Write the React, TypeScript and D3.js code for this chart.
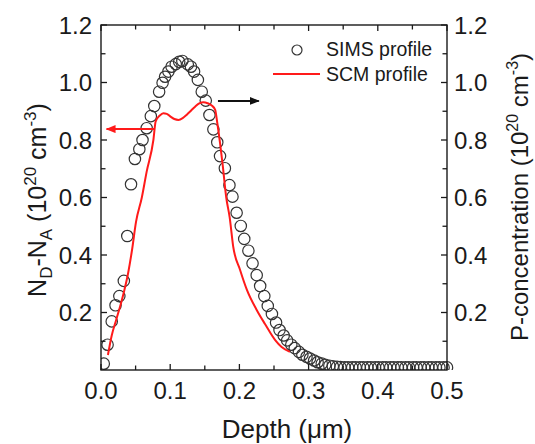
import * as d3 from 'd3';

// SIMS profile (right axis), depth in µm, P concentration in 1e20 cm^-3
const simsDepth = [
  0.004, 0.0095, 0.0155, 0.021, 0.0265, 0.033, 0.038, 0.0434, 0.049, 0.0554,
  0.06, 0.066, 0.072, 0.077, 0.084, 0.089, 0.0926, 0.0974, 0.102, 0.108,
  0.113, 0.1176, 0.1254, 0.13, 0.1345, 0.14, 0.1456, 0.1514, 0.1567, 0.1624,
  0.168, 0.172, 0.179, 0.1856, 0.19, 0.196, 0.202, 0.207, 0.213, 0.219,
  0.225, 0.23, 0.236, 0.241, 0.247, 0.253, 0.258, 0.264, 0.269, 0.275,
  0.28, 0.286, 0.291, 0.297, 0.302, 0.308, 0.313, 0.319, 0.324, 0.33,
  0.335, 0.341, 0.346, 0.352, 0.357, 0.363, 0.368, 0.374, 0.379, 0.385,
  0.39, 0.396, 0.401, 0.407, 0.412, 0.418, 0.423, 0.429, 0.434, 0.44,
  0.445, 0.451, 0.456, 0.462, 0.467, 0.473, 0.478, 0.484, 0.489, 0.495, 0.5,
];
const simsConc = [
  0.022, 0.088, 0.169, 0.225, 0.257, 0.31, 0.466, 0.646, 0.734, 0.768,
  0.8, 0.841, 0.883, 0.918, 0.968, 0.999, 1.02, 1.038, 1.055, 1.064,
  1.072, 1.075, 1.063, 1.055, 1.038, 1.009, 0.968, 0.937, 0.887, 0.837,
  0.792, 0.744, 0.702, 0.643, 0.603, 0.547, 0.501, 0.456, 0.415, 0.371,
  0.33, 0.292, 0.257, 0.223, 0.195, 0.165, 0.139, 0.12, 0.103, 0.088,
  0.076, 0.063, 0.053, 0.046, 0.04, 0.033, 0.027, 0.022, 0.018, 0.015,
  0.013, 0.011, 0.01, 0.009, 0.009, 0.009, 0.009, 0.009, 0.009, 0.009,
  0.009, 0.009, 0.009, 0.009, 0.009, 0.009, 0.009, 0.009, 0.009, 0.009,
  0.009, 0.009, 0.009, 0.009, 0.009, 0.009, 0.009, 0.009, 0.009, 0.009, 0.009,
];

// SCM profile (left axis), ND-NA in 1e20 cm^-3
const scmDepth = [
  0.01, 0.0155, 0.022, 0.0275, 0.034, 0.0395, 0.045, 0.0506, 0.059, 0.066,
  0.0757, 0.079, 0.085, 0.09, 0.095, 0.1, 0.106, 0.112, 0.118, 0.124,
  0.13, 0.136, 0.142, 0.148, 0.154, 0.16, 0.165, 0.168, 0.172, 0.176,
  0.181, 0.186, 0.191, 0.201, 0.211, 0.225, 0.237, 0.252, 0.261, 0.273,
];
const scmConc = [
  0.052, 0.12, 0.175, 0.22, 0.28, 0.341, 0.42, 0.515, 0.6, 0.69,
  0.8, 0.865, 0.885, 0.893, 0.891, 0.882, 0.873, 0.87, 0.876, 0.888,
  0.902, 0.916, 0.927, 0.931, 0.928, 0.92, 0.905, 0.86, 0.79, 0.71,
  0.6, 0.53, 0.43, 0.348, 0.278, 0.209, 0.16, 0.103, 0.08, 0.063,
];

const xTickLabels = ['0.0', '0.1', '0.2', '0.3', '0.4', '0.5'];
const xMinorTicks = [0.05, 0.15, 0.25, 0.35, 0.45];
const yTickLabels = ['0.2', '0.4', '0.6', '0.8', '1.0', '1.2'];
const yMinorTicks = [0.1, 0.3, 0.5, 0.7, 0.9, 1.1];

// annotation arrows: [fromDepth, toDepth, level]
const leftArrow = [0.078, 0.008, 0.838];
const rightArrow = [0.169, 0.228, 0.936];

const width = 535;
const height = 444;
const plot = { left: 101, right: 447, top: 25, bottom: 370 };
const font = '"Liberation Sans", Arial, sans-serif';
const ink = '#1a1a1a';

export default function App() {
  const x = d3.scaleLinear().domain([0, 0.5]).range([plot.left, plot.right]);
  const y = d3.scaleLinear().domain([0, 1.2]).range([plot.bottom, plot.top]);

  const scmLine = d3
    .line<number>()
    .x((_, i) => x(scmDepth[i]))
    .y((d) => y(d))
    .curve(d3.curveMonotoneX)(scmConc);

  const major = 6;
  const minor = 4.5;

  return (
    <svg
      width={width}
      height={height}
      viewBox={`0 0 ${width} ${height}`}
      style={{ position: 'absolute', left: 0, top: 0, background: '#fff' }}
      fontFamily={font}
    >
      <defs>
        <marker id="headRed" viewBox="0 0 10 8" refX="9" refY="4" markerWidth="10" markerHeight="8" markerUnits="userSpaceOnUse" orient="auto">
          <path d="M0,0 L10,4 L0,8 Z" fill="#ff1a1a" />
        </marker>
        <marker id="headBlack" viewBox="0 0 10 8" refX="9" refY="4" markerWidth="10" markerHeight="8" markerUnits="userSpaceOnUse" orient="auto">
          <path d="M0,0 L10,4 L0,8 Z" fill="#111" />
        </marker>
        <clipPath id="plotClip">
          <rect x={plot.left} y={plot.top - 8} width={plot.right - plot.left + 8} height={plot.bottom - plot.top + 8} />
        </clipPath>
      </defs>

      {/* SIMS circles */}
      <g clipPath="url(#plotClip)">
        {simsConc.map((v, i) => (
          <circle key={i} cx={x(simsDepth[i])} cy={y(v)} r={5.7} fill="none" stroke="#333" strokeWidth={1.2} />
        ))}
      </g>

      {/* SCM line */}
      <path d={scmLine ?? ''} fill="none" stroke="#ff1a1a" strokeWidth={2} />

      {/* arrows */}
      <line
        x1={x(leftArrow[0])} x2={x(leftArrow[1])} y1={y(leftArrow[2])} y2={y(leftArrow[2])}
        stroke="#ff1a1a" strokeWidth={2} markerEnd="url(#headRed)"
      />
      <line
        x1={x(rightArrow[0])} x2={x(rightArrow[1])} y1={y(rightArrow[2])} y2={y(rightArrow[2])}
        stroke="#111" strokeWidth={2} markerEnd="url(#headBlack)"
      />

      {/* frame */}
      <rect
        x={plot.left} y={plot.top} width={plot.right - plot.left} height={plot.bottom - plot.top}
        fill="none" stroke={ink} strokeWidth={1.4}
      />

      {/* x ticks, bottom and top */}
      {xTickLabels.map((t) => {
        const px = x(+t);
        return (
          <g key={t}>
            <line x1={px} x2={px} y1={plot.bottom} y2={plot.bottom - major} stroke={ink} strokeWidth={1.3} />
            <line x1={px} x2={px} y1={plot.top} y2={plot.top + major} stroke={ink} strokeWidth={1.3} />
            <text x={px} y={399} textAnchor="middle" fontSize={24} fill={ink}>{t}</text>
          </g>
        );
      })}
      {xMinorTicks.map((t) => (
        <g key={t}>
          <line x1={x(t)} x2={x(t)} y1={plot.bottom} y2={plot.bottom - minor} stroke={ink} strokeWidth={1.3} />
          <line x1={x(t)} x2={x(t)} y1={plot.top} y2={plot.top + minor} stroke={ink} strokeWidth={1.3} />
        </g>
      ))}

      {/* y ticks, left and right */}
      {yTickLabels.map((t) => {
        const py = y(+t);
        return (
          <g key={t}>
            <line x1={plot.left} x2={plot.left + major} y1={py} y2={py} stroke={ink} strokeWidth={1.3} />
            <line x1={plot.right} x2={plot.right - major} y1={py} y2={py} stroke={ink} strokeWidth={1.3} />
            <text x={92} y={py + 8.5} textAnchor="end" fontSize={24} fill={ink}>{t}</text>
            <text x={454} y={py + 8.5} textAnchor="start" fontSize={24} fill={ink}>{t}</text>
          </g>
        );
      })}
      {yMinorTicks.map((t) => (
        <g key={t}>
          <line x1={plot.left} x2={plot.left + minor} y1={y(t)} y2={y(t)} stroke={ink} strokeWidth={1.3} />
          <line x1={plot.right} x2={plot.right - minor} y1={y(t)} y2={y(t)} stroke={ink} strokeWidth={1.3} />
        </g>
      ))}

      {/* legend */}
      <circle cx={297} cy={50} r={5} fill="none" stroke="#333" strokeWidth={1.2} />
      <text x={326} y={56} fontSize={19.5} fill={ink}>SIMS profile</text>
      <line x1={273} x2={320} y1={74} y2={74} stroke="#ff1a1a" strokeWidth={1.8} />
      <text x={326} y={80.5} fontSize={19.5} fill={ink}>SCM profile</text>

      {/* axis titles */}
      <text x={287} y={438} textAnchor="middle" fontSize={26} fill={ink}>Depth (μm)</text>

      <text transform="translate(46,200) rotate(-90)" textAnchor="middle" fontSize={25} fill={ink}>
        N<tspan fontSize={17} dy={6}>D</tspan>
        <tspan dy={-6}>-N</tspan>
        <tspan fontSize={17} dy={6}>A</tspan>
        <tspan dy={-6}> (10</tspan>
        <tspan fontSize={17} dy={-10}>20</tspan>
        <tspan dy={10}> cm</tspan>
        <tspan fontSize={17} dy={-10}>-3</tspan>
        <tspan dy={10}>)</tspan>
      </text>

      <text transform="translate(528,197) rotate(-90)" textAnchor="middle" fontSize={24} fill={ink}>
        P-concentration (10
        <tspan fontSize={16} dy={-10}>20</tspan>
        <tspan dy={10}> cm</tspan>
        <tspan fontSize={16} dy={-10}>-3</tspan>
        <tspan dy={10}>)</tspan>
      </text>
    </svg>
  );
}
